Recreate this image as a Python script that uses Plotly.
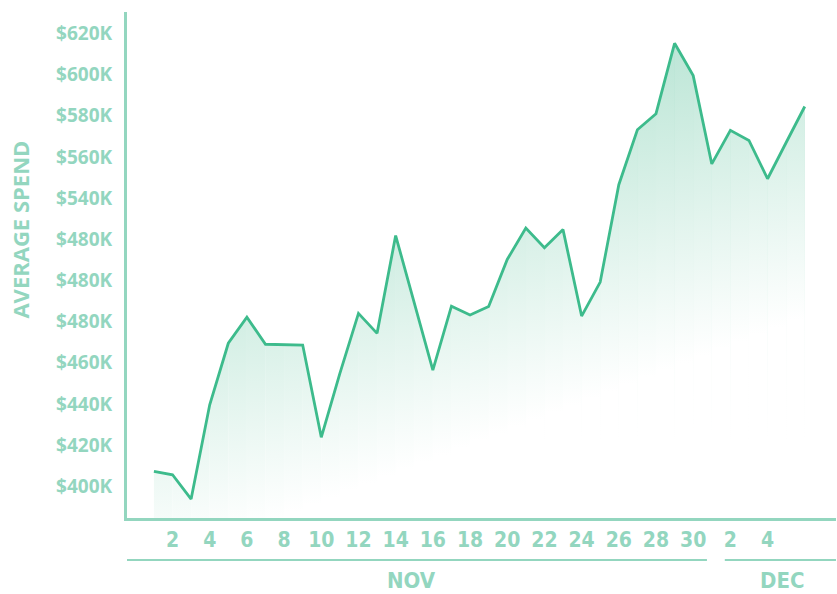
import plotly.graph_objects as go

# Daily average spend, Nov 1 - Dec 6 (in $K)
days = list(range(1, 37))  # 1 = Nov 1 ... 36 = Dec 6
spend = [407.3, 405.6, 393.8, 439.6, 469.5, 482.1, 469.0, 468.8, 468.6, 423.8,
         454.9, 484.0, 474.3, 521.8, 488.9, 456.4, 487.5, 483.2, 487.3, 510.2,
         525.4, 515.9, 524.7, 482.7, 499.2, 546.5, 573.2, 581.0, 615.2, 599.5,
         556.6, 572.9, 568.0, 549.4, 567.0, 584.5]

x_tick_vals = [2, 4, 6, 8, 10, 12, 14, 16, 18, 20, 22, 24, 26, 28, 30, 32, 34]
x_tick_text = ["2", "4", "6", "8", "10", "12", "14", "16", "18", "20", "22",
               "24", "26", "28", "30", "2", "4"]

y_tick_vals = [400, 420, 440, 460, 480, 500, 520, 540, 560, 580, 600, 620]
y_tick_text = ["$400K", "$420K", "$440K", "$460K", "$480K", "$480K", "$480K",
               "$540K", "$560K", "$580K", "$600K", "$620K"]

months = ["NOV", "DEC"]

MINT = "#93d6bf"
LINE = "#3dbb8c"
X_RANGE = [-0.448, 37.68]
Y_RANGE = [384.6, 630.4]
BASE = Y_RANGE[0]
SCALE = [[0, "rgb(255,255,255)"], [1, "rgb(178,226,208)"]]


def grad_start(d):
    # gradient start drifts upward to the right, giving a diagonal fade
    return 361.8 + 3.444 * (d - 1)


fig = go.Figure()

# Full area underlay (keeps strip joins seamless)
mid_day = (days[0] + days[-1]) / 2
fig.add_trace(go.Scatter(
    x=[days[0]] + days + [days[-1], days[0]],
    y=[BASE] + spend + [BASE, BASE],
    mode="none", fill="toself",
    fillgradient=dict(type="vertical", start=grad_start(mid_day),
                      stop=grad_start(mid_day) + 179.8, colorscale=SCALE),
    hoverinfo="skip", showlegend=False,
))

# Area under the curve, per day-interval, so the gradient runs diagonally
for i in range(len(days) - 1):
    x0, x1 = days[i], days[i + 1]
    g0 = grad_start((x0 + x1) / 2)
    fig.add_trace(go.Scatter(
        x=[x0, x1, x1, x0, x0],
        y=[spend[i], spend[i + 1], BASE, BASE, spend[i]],
        mode="none", fill="toself",
        fillgradient=dict(type="vertical", start=g0, stop=g0 + 179.8,
                          colorscale=SCALE),
        hoverinfo="skip", showlegend=False,
    ))

fig.add_trace(go.Scatter(
    x=days, y=spend,
    mode="lines",
    line=dict(color=LINE, width=2.8),
    hoverinfo="skip",
    showlegend=False,
))

# Month bands under the day ticks
nov_end, dec_start = 30.74, 31.70
band_y = -42 / 507
fig.add_shape(type="line", xref="x", yref="paper", x0=X_RANGE[0], x1=nov_end,
              y0=band_y, y1=band_y, line=dict(color=MINT, width=2))
fig.add_shape(type="line", xref="x", yref="paper", x0=dec_start, x1=X_RANGE[1],
              y0=band_y, y1=band_y, line=dict(color=MINT, width=2))

month_x = [14.83, 34.78]
for name, mx in zip(months, month_x):
    fig.add_annotation(
        x=mx, xref="x", y=-63 / 507, yref="paper",
        text=name, showarrow=False, xanchor="center", yanchor="middle",
        borderpad=0,
        font=dict(family="Liberation Sans Narrow, DejaVu Sans Condensed, Roboto",
                  size=22, color=MINT, weight="bold"),
    )

fig.add_annotation(
    x=0, xref="paper", xshift=-107, y=(519 - 230) / 507, yref="paper",
    text="AVERAGE SPEND", textangle=-90, showarrow=False,
    xanchor="center", yanchor="middle",
    font=dict(family="Open Sans, Lato, sans-serif", size=22, color=MINT,
              weight="bold"),
)

fig.update_layout(
    width=837, height=594,
    margin=dict(l=127, r=1, t=12, b=76),
    paper_bgcolor="white", plot_bgcolor="white",
    xaxis=dict(
        range=X_RANGE, showgrid=False, zeroline=False,
        showline=True, linecolor=MINT, linewidth=3,
        tickmode="array", tickvals=x_tick_vals, ticktext=x_tick_text,
        ticks="", ticklabelstandoff=1,
        tickfont=dict(family="Liberation Sans Narrow, DejaVu Sans Condensed, Roboto",
                      size=21, color=MINT, weight="bold"),
        fixedrange=True,
    ),
    yaxis=dict(
        range=Y_RANGE, showgrid=False, zeroline=False,
        showline=True, linecolor=MINT, linewidth=3,
        tickmode="array", tickvals=y_tick_vals, ticktext=y_tick_text,
        ticks="", ticklabelstandoff=8,
        tickfont=dict(family="Open Sans, Lato, sans-serif", size=19,
                      color=MINT, weight="bold"),
        fixedrange=True,
    ),
)

fig.write_html("out.html")
